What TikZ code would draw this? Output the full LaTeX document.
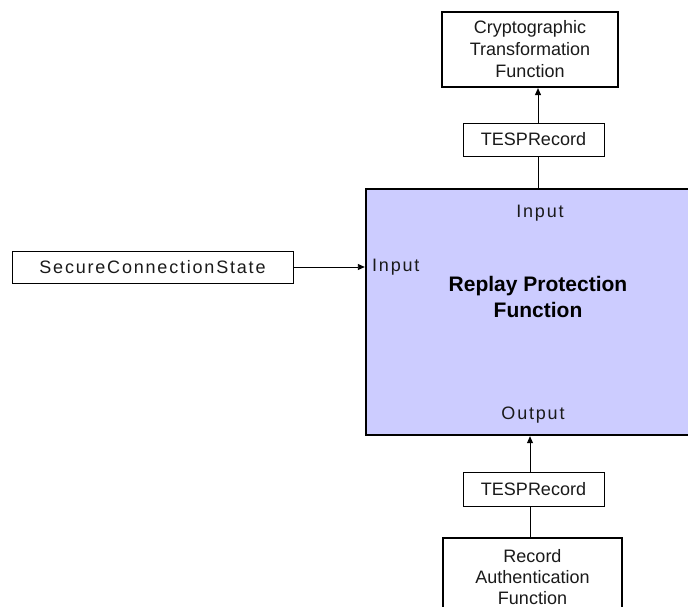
\documentclass[tikz,border=0pt]{standalone}
\usepackage{fontspec}
\setmainfont{Liberation Sans}
\newfontfamily\spaced[LetterSpace=10]{Liberation Sans}
\usetikzlibrary{arrows.meta}
\definecolor{rpfill}{HTML}{CCCCFF}
\definecolor{ink}{HTML}{1A1A1A}
\tikzset{
  thinbox/.style={draw=black, line width=0.9pt, fill=white, inner sep=0pt,
    font=\fontsize{18pt}{22.5pt}\selectfont, text=ink, align=center},
  thickbox/.style={draw=black, line width=2.2pt, fill=white, inner sep=0pt,
    font=\fontsize{18pt}{22pt}\selectfont, text=ink, align=center},
  lbl/.style={inner sep=0pt, font=\spaced\fontsize{18pt}{22pt}\selectfont, text=ink},
  titletxt/.style={inner sep=0pt, align=center, text=black,
    font=\bfseries\fontsize{21pt}{26pt}\selectfont},
  conn/.style={line width=0.9pt, draw=black},
  arr/.style={conn, -{Triangle[length=7pt,width=6pt]}}
}
\begin{document}
\begin{tikzpicture}[x=1pt,y=-1pt]
\useasboundingbox (0,0) rectangle (688,607);
\begin{scope}
\clip (0,0) rectangle (688,607);

% main function block, running past the right edge
\node[draw=black, line width=2.4pt, fill=rpfill, inner sep=0pt,
      minimum width=340pt, minimum height=246pt] (rpf) at (536,312) {};
\node[lbl] (inTop) at (540,213) {Input};
\node[lbl, anchor=west] (inLeft) at (372,267) {Input};
\node[titletxt] (title) at (538,297) {Replay Protection\\Function};
\node[lbl] (outB) at (533,415) {Output};

% surrounding blocks
\node[thickbox, minimum width=176pt, minimum height=75pt] (ctf) at (530,49.5)
  {Cryptographic\\Transformation\\Function};
\node[thinbox, minimum width=141pt, minimum height=33pt] (tespA) at (533.5,139.5)
  {TESPRecord};
\node[thinbox, font=\spaced\fontsize{18pt}{22pt}\selectfont,
      minimum width=281pt, minimum height=32pt] (scs) at (152.5,267)
  {SecureConnectionState};
\node[thinbox, minimum width=141pt, minimum height=34pt] (tespB) at (533.5,489)
  {TESPRecord};
\node[thickbox, font=\fontsize{18pt}{21pt}\selectfont,
      minimum width=179pt, minimum height=78pt] (rec) at (532.5,577)
  {Record\\Authentication\\Function};

% connectors
\coordinate (upx) at (538,0);
\coordinate (dnx) at (530,0);
\draw[conn] (upx |- rpf.north) -- (upx |- tespA.south);
\draw[arr] (upx |- tespA.north) -- (upx |- ctf.south);
\draw[arr] (scs.east) -- (rpf.west |- scs.east);
\draw[conn] (dnx |- rec.north) -- (dnx |- tespB.south);
\draw[arr] (dnx |- tespB.north) -- (dnx |- rpf.south);
\end{scope}
\end{tikzpicture}
\end{document}
